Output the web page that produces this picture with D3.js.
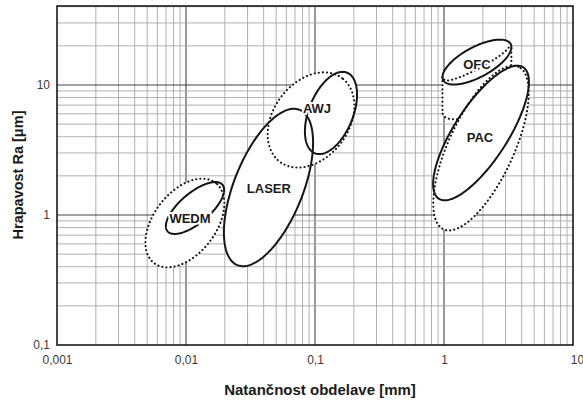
<!DOCTYPE html>
<html><head><meta charset="utf-8">
<script src="https://cdn.jsdelivr.net/npm/d3@7"></script>
<style>body{margin:0;background:#fff} svg{display:block}</style>
</head><body><svg id="c" width="583" height="403"></svg>
<script>
// ---- data ----
const xTickValues = [0.001, 0.01, 0.1, 1, 10];
const xTickLabels = ["0,001", "0,01", "0,1", "1", "10"];
const yTickValues = [0.1, 1, 10];
const yTickLabels = ["0,1", "1", "10"];
const xDomain = [0.001, 10];
const yDomain = [0.1, 40.5];
const xTitle = "Natančnost obdelave [mm]";
const yTitle = "Hrapavost Ra [μm]";

// process regions: ellipses in log space (centre, semi-axes in decades, tilt in degrees)
const regionProcess = ["WEDM", "WEDM", "AWJ", "LASER", "AWJ", "OFC", "PAC", "PAC"];
const regionKind    = ["extended", "typical", "extended", "typical", "typical", "typical", "extended", "typical"];
const regionCx      = [0.0098, 0.01174, 0.0931, 0.0436, 0.133, 1.80, 1.936, 1.936];
const regionCy      = [0.868, 1.132, 5.38, 1.627, 6.09, 15.0, 3.27, 4.27];
const regionMajor   = [0.39, 0.278, 0.402, 0.644, 0.334, 0.296, 0.689, 0.602];
const regionMinor   = [0.24, 0.116, 0.292, 0.267, 0.171, 0.116, 0.252, 0.208];
const regionTilt    = [52, 40, 53, 68, 68, 28, 65, 57];
// OFC extended range: the typical ellipse swept down to a lower Ra centre
const ofcExtendedLowCy = 8.1;
const ofcInnerMinor = 0.05;

const labelText = ["WEDM", "LASER", "AWJ", "OFC", "PAC"];
const labelX    = [0.01074, 0.0439, 0.1036, 1.80, 1.90];
const labelY    = [0.932, 1.61, 6.65, 14.25, 3.91];

// ---- drawing ----
const svg = d3.select("#c");
const L = 57, R = 573, T = 6, B = 345;
const x = d3.scaleLog().domain(xDomain).range([L, R]);
const y = d3.scaleLog().domain(yDomain).range([B, T]);

// grid
const g = svg.append("g");
const isDecade = v => Math.abs(Math.log10(v) - Math.round(Math.log10(v))) < 1e-9;
const xt = x.ticks().filter(v => v > xDomain[0] && v < xDomain[1]);
const yt = y.ticks().filter(v => v > yDomain[0] && v < yDomain[1]);
g.selectAll("line.gx").data(xt).join("line")
  .attr("x1", d => x(d)).attr("x2", d => x(d)).attr("y1", T).attr("y2", B)
  .attr("stroke", d => isDecade(d) ? "#444" : "#a8a8a8")
  .attr("stroke-width", d => isDecade(d) ? 1.1 : 0.9);
g.selectAll("line.gy").data(yt).join("line")
  .attr("y1", d => y(d)).attr("y2", d => y(d)).attr("x1", L).attr("x2", R)
  .attr("stroke", d => isDecade(d) ? "#444" : "#a8a8a8")
  .attr("stroke-width", d => isDecade(d) ? 1.1 : 0.9);

// ellipse points
function ellipsePts(cx, cy, a, b, tiltDeg, n = 180, t0 = 0, t1 = 2 * Math.PI) {
  const th = tiltDeg * Math.PI / 180, lx = Math.log10(cx), ly = Math.log10(cy);
  const pts = [];
  for (let i = 0; i <= n; i++) {
    const t = t0 + (t1 - t0) * i / n;
    const u = a * Math.cos(t), v = b * Math.sin(t);
    const px = lx + u * Math.cos(th) - v * Math.sin(th);
    const py = ly + u * Math.sin(th) + v * Math.cos(th);
    pts.push([x(Math.pow(10, px)), y(Math.pow(10, py))]);
  }
  return pts;
}
const line = d3.line();
const solidStyle = s => s.attr("fill", "none").attr("stroke", "#151515").attr("stroke-width", 2);
const dotStyle = s => s.attr("fill", "none").attr("stroke", "#151515").attr("stroke-width", 2.1)
  .attr("stroke-linecap", "round").attr("stroke-dasharray", "0.1 4");

const idx = regionProcess.map((p, i) => i);
const shapes = idx.map(i => ellipsePts(regionCx[i], regionCy[i], regionMajor[i], regionMinor[i], regionTilt[i]));

// OFC sweep geometry
const ofcI = regionProcess.indexOf("OFC");
function ofcSweep() {
  const up = shapes[ofcI];
  const lo = ellipsePts(regionCx[ofcI], ofcExtendedLowCy, regionMajor[ofcI], regionMinor[ofcI], regionTilt[ofcI], 360);
  const iminU = d3.minIndex(up, p => p[0]), imaxU = d3.maxIndex(up, p => p[0]);
  const iminL = d3.minIndex(lo, p => p[0]), imaxL = d3.maxIndex(lo, p => p[0]);
  const arcA = [], arcB = [];
  const N = lo.length - 1;
  for (let k = iminL; ; k = (k + 1) % N) { arcA.push(lo[k]); if (k === imaxL) break; }
  for (let k = iminL; ; k = (k - 1 + N) % N) { arcB.push(lo[k]); if (k === imaxL) break; }
  const arc = d3.mean(arcA, p => p[1]) > d3.mean(arcB, p => p[1]) ? arcA : arcB;
  return [up[iminU], ...arc, up[imaxU]];
}

function drawGroup(ids, extra) {
  const gg = svg.append("g");
  ids.forEach(i => gg.append("path").attr("d", line(shapes[i]) + "Z").attr("fill", "#fff"));
  if (extra) extra(gg);
  ids.forEach(i => {
    const p = gg.append("path").attr("d", line(shapes[i]) + "Z");
    regionKind[i] === "extended" ? dotStyle(p) : solidStyle(p);
  });
}
drawGroup([0, 1]);
drawGroup([2, 3, 4]);
drawGroup([5], gg => {
  const sw = ofcSweep();
  gg.append("path").attr("d", line(sw) + "Z").attr("fill", "#fff");
  dotStyle(gg.append("path").attr("d", line(sw)));
  const inner = ellipsePts(regionCx[ofcI], regionCy[ofcI], regionMajor[ofcI] * 0.97, ofcInnerMinor, regionTilt[ofcI], 90, Math.PI, 2 * Math.PI);
  dotStyle(gg.append("path").attr("d", line(inner)));
});
drawGroup([6, 7]);

// labels
svg.append("g").selectAll("text").data(labelText).join("text")
  .attr("x", (d, i) => x(labelX[i])).attr("y", (d, i) => y(labelY[i]))
  .attr("text-anchor", "middle").attr("dominant-baseline", "central")
  .attr("font-family", "Liberation Sans, Arial, sans-serif").attr("font-weight", "bold")
  .attr("font-size", 13).attr("fill", "#1a1a1a")
  .attr("stroke", "#fff").attr("stroke-width", 4).attr("paint-order", "stroke")
  .text(d => d);

// frame
svg.append("rect").attr("x", L).attr("y", T).attr("width", R - L).attr("height", B - T)
  .attr("fill", "none").attr("stroke", "#1a1a1a").attr("stroke-width", 1.6);

// axes
const xa = svg.append("g").attr("transform", `translate(0,${B})`)
  .call(d3.axisBottom(x).tickValues(xTickValues).tickFormat((d, i) => xTickLabels[i]).tickSize(0).tickPadding(10));
const ya = svg.append("g").attr("transform", `translate(${L},0)`)
  .call(d3.axisLeft(y).tickValues(yTickValues).tickFormat((d, i) => yTickLabels[i]).tickSize(0).tickPadding(7));
[xa, ya].forEach(a => {
  a.select(".domain").remove();
  a.selectAll("text").attr("font-family", "Liberation Sans, Arial, sans-serif").attr("font-size", 12).attr("fill", "#3a3a3a");
});
xa.selectAll(".tick").filter(d => d === 10).select("text").attr("dx", 4);

svg.append("text").attr("x", 320).attr("y", 395).attr("text-anchor", "middle")
  .attr("font-family", "Liberation Sans, Arial, sans-serif").attr("font-weight", "bold").attr("font-size", 15)
  .attr("fill", "#1a1a1a").text(xTitle);
svg.append("text").attr("transform", "translate(23,175) rotate(-90)").attr("text-anchor", "middle")
  .attr("font-family", "Liberation Sans, Arial, sans-serif").attr("font-weight", "bold").attr("font-size", 14.5)
  .attr("fill", "#1a1a1a").text(yTitle);
</script></body></html>
